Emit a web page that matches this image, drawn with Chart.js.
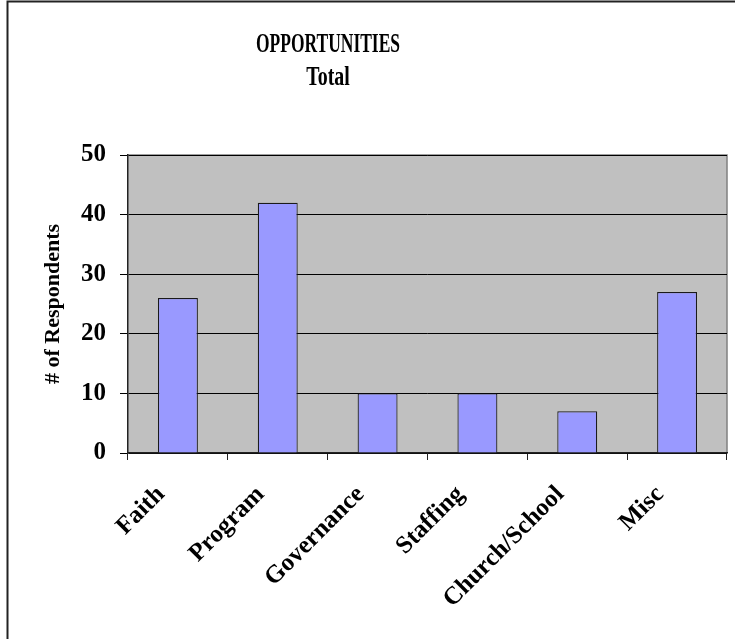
<!DOCTYPE html>
<html>
<head>
<meta charset="utf-8">
<script src="https://cdn.jsdelivr.net/npm/chart.js@4/dist/chart.umd.min.js"></script>
<style>
  body { margin: 0; background: #fff; }
  canvas { display: block; }
</style>
</head>
<body>
<canvas id="oppChart" width="735" height="639"></canvas>
<script>
const categories = ['Faith', 'Program', 'Governance', 'Staffing', 'Church/School', 'Misc'];
const respondents = [26, 42, 10, 10, 7, 27];
const yTicks = [0, 10, 20, 30, 40, 50];
const titleLines = ['OPPORTUNITIES', 'Total'];

const serif = '"Liberation Serif", "Times New Roman", serif';

// grey plot background, outer frame and the (slightly stretched) title text
const chartDecor = {
    id: 'chartDecor',
    beforeDraw(chart) {
        const { ctx, chartArea: a } = chart;
        ctx.save();
        ctx.fillStyle = '#fff';
        ctx.fillRect(0, 0, chart.width, chart.height);
        ctx.strokeStyle = '#222';
        ctx.lineWidth = 2;
        ctx.strokeRect(7.5, 1.5, 900, 900);
        ctx.fillStyle = '#c0c0c0';
        ctx.fillRect(a.left, a.top, a.right - a.left, a.bottom - a.top);
        ctx.strokeStyle = '#808080';
        ctx.lineWidth = 1.5;
        ctx.beginPath();
        ctx.moveTo(a.left, a.top);
        ctx.lineTo(a.right, a.top);
        ctx.lineTo(a.right, a.bottom);
        ctx.stroke();
        ctx.fillStyle = '#000';
        ctx.font = 'bold 19px ' + serif;
        ctx.textAlign = 'center';
        ctx.textBaseline = 'middle';
        [[titleLines[0], 45, 0.92], [titleLines[1], 78, 1.05]].forEach(([txt, y, sx]) => {
            ctx.save();
            ctx.translate(328, y);
            ctx.scale(sx, 1.45);
            ctx.fillText(txt, 0, 0);
            ctx.restore();
        });
        ctx.restore();
    }
};

const ctx = document.getElementById('oppChart').getContext('2d');
const myChart = new Chart(ctx, {
    type: 'bar',
    data: {
        labels: categories,
        datasets: [{
            label: '# of Respondents',
            data: respondents,
            backgroundColor: '#9999ff',
            borderColor: '#1a1a1a',
            borderWidth: 1.2,
            barPercentage: 0.4,
            categoryPercentage: 1.0,
        }],
    },
    options: {
        responsive: false,
        animation: false,
        layout: { padding: { top: 155, right: 8, left: 0, bottom: 0 } },
        plugins: {
            legend: { display: false },
            tooltip: { enabled: false },
        },
        scales: {
            x: {
                offset: true,
                grid: {
                    offset: true,
                    drawOnChartArea: false,
                    drawTicks: true,
                    tickLength: 7,
                    color: '#222',
                },
                border: { color: '#222', width: 1.5 },
                ticks: {
                    color: '#000',
                    font: { family: serif, size: 25, weight: 'bold' },
                    minRotation: 45,
                    maxRotation: 45,
                    autoSkip: false,
                    padding: 20,
                    labelOffset: -17,
                },
                afterFit(scale) { scale.height = 186; },
            },
            y: {
                min: 0,
                max: 50,
                afterBuildTicks(scale) { scale.ticks = yTicks.map(v => ({ value: v })); },
                grid: {
                    color: '#000',
                    lineWidth: 1,
                    drawTicks: true,
                    tickLength: 8,
                },
                border: { color: '#222', width: 1.5 },
                ticks: {
                    color: '#000',
                    font: { family: serif, size: 25, weight: 'bold' },
                    padding: 14,
                },
                title: {
                    display: true,
                    text: '# of Respondents',
                    color: '#000',
                    font: { family: serif, size: 22, weight: 'bold' },
                    padding: { top: 40, bottom: 0 },
                },
                afterFit(scale) { scale.width = 128; },
            }
        }
    },
    plugins: [chartDecor]
});
</script>
</body>
</html>
